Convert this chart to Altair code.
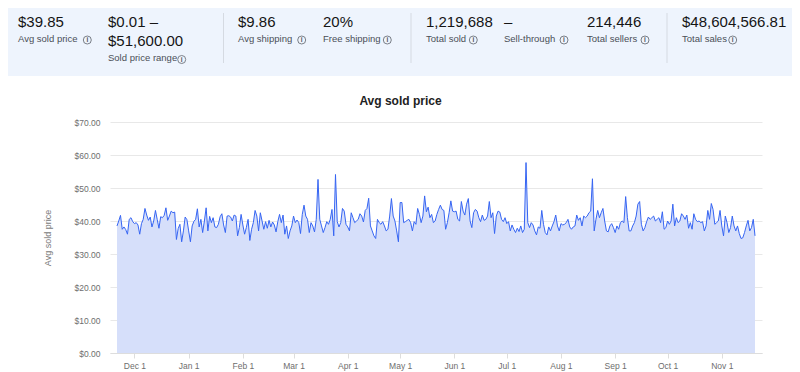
import altair as alt
import pandas as pd

# ---------------- data ----------------
seg1 = [38.5, 40.0, 41.7, 37.5, 38.2, 37.4, 36.0, 40.5, 41.0, 39.8,
        39.2, 39.5, 38.8, 36.0, 39.2, 40.5, 43.8, 41.8, 40.2, 41.2,
        38.2, 40.0, 43.2, 40.5, 37.8, 41.3, 41.0, 41.7, 44.0, 40.2,
        41.5, 43.0, 42.5, 42.7, 34.4, 37.7, 39.0, 33.7, 37.0, 41.2,
        40.4, 37.0, 33.7, 38.5, 39.9, 40.5, 43.7, 38.2, 40.5, 36.5,
        40.0, 44.0, 37.0, 41.4, 39.5, 41.0, 38.2, 38.0, 39.0, 41.3,
        42.2, 38.8, 36.5, 41.5, 41.6, 41.2, 40.0, 41.8, 41.5, 35.5,
        38.0, 42.0, 38.8, 36.0, 38.0, 40.5, 34.1, 37.5, 39.5, 43.2,
        41.5, 37.0, 42.5, 40.0, 37.5, 39.8, 37.8, 40.2, 38.2]
seg2 = [39.7, 38.8, 36.7, 39.8, 42.0, 39.5, 41.8, 36.0, 38.5, 34.7,
        37.0, 38.5, 41.5, 39.5, 40.3, 39.5, 36.2, 42.0, 44.8, 41.5,
        40.5, 36.5, 39.5, 38.5, 36.7, 40.5, 52.6, 40.5, 38.5, 36.5,
        38.0, 39.8, 39.0, 40.5, 43.5, 35.5, 54.1, 39.8, 38.2, 39.5,
        43.8, 43.0, 39.0, 38.2, 37.0, 42.5, 41.0, 39.5, 40.0, 40.5,
        42.2, 41.5, 39.7, 43.2, 43.8, 46.9, 38.5, 37.0, 35.5, 34.7,
        40.5, 39.5, 39.0, 39.8, 38.5, 37.0, 37.5, 41.5, 46.8, 41.5,
        40.0, 37.0, 33.7, 45.6, 45.6, 39.5, 39.8, 40.2, 40.5, 39.5,
        37.0, 39.8, 39.0, 43.8, 42.0, 39.5, 41.5, 47.6, 42.8, 44.2,
        41.0, 42.0]
seg3 = [39.5, 40.0, 42.0, 43.5, 44.8, 43.5, 43.2, 37.5, 39.5, 42.5,
        46.1, 43.0, 42.8, 43.0, 40.5, 40.0, 45.9, 43.0, 41.8, 45.1,
        46.8, 40.0, 38.0, 42.5, 43.5, 43.0, 41.0, 39.8, 41.8, 40.2,
        40.5, 41.5, 45.9, 41.0, 42.5, 36.2, 41.5, 43.0, 42.7, 40.5,
        39.8, 41.0, 39.2, 39.8, 37.0, 38.8, 37.5, 36.5, 37.8, 36.8,
        38.5, 36.5, 37.5, 57.7, 39.5, 38.0, 39.5, 38.8, 37.0, 35.8,
        38.2, 37.8, 43.2, 39.0, 36.5, 35.8, 38.2, 37.0, 38.5, 39.8,
        41.8, 38.5, 37.0, 39.2, 38.8, 39.0, 39.5, 40.5, 38.2, 37.5,
        38.2, 38.5, 41.8, 40.2, 41.0, 38.5, 41.5, 41.0, 41.5, 42.5, 43.0]
seg4 = [52.8, 37.0, 40.5, 43.2, 41.0, 42.5, 43.8, 40.0, 37.0, 36.7,
        38.5, 39.2, 38.0, 36.5, 38.5, 37.5, 39.5, 40.0, 39.5, 47.4,
        41.0, 37.0, 37.0, 38.5, 39.5, 41.5, 45.1, 45.9, 39.0, 37.0,
        38.0, 39.8, 41.2, 40.5, 41.0, 41.5, 40.0, 40.5, 41.0, 39.5,
        42.8, 37.5, 38.0, 40.0, 39.0, 40.0, 45.1, 38.5, 41.0, 39.5,
        40.0, 42.2, 41.5, 40.5, 41.8, 37.8, 39.5, 37.5, 42.2, 40.5,
        39.8, 40.0, 39.5, 39.8, 37.0, 38.5, 43.2, 40.5, 45.3, 43.5,
        39.0, 39.5, 40.0, 43.2, 38.5, 35.5, 41.5, 39.5, 36.5, 38.0,
        41.5, 38.5, 37.0, 38.5, 36.2, 34.7, 34.9, 36.5, 38.5, 40.2,
        37.0, 38.0, 40.5, 35.5]
prices = seg1 + seg2 + seg3 + seg4
start_date = "2023-11-21"
dates = pd.date_range(start_date, periods=len(prices), freq="D").strftime("%Y-%m-%d").tolist()

y_ticks = [0, 10, 20, 30, 40, 50, 60, 70]
x_tick_months = [(2023, 12), (2024, 1), (2024, 2), (2024, 3), (2024, 4), (2024, 5),
                 (2024, 6), (2024, 7), (2024, 8), (2024, 9), (2024, 10), (2024, 11)]

stat_values = ["$39.85", "$0.01 \u2013", "$9.86", "20%", "1,219,688", "\u2013", "214,446", "$48,604,566.81"]
stat_value_line2 = "$51,600.00"
stat_labels = ["Avg sold price", "Sold price range", "Avg shipping", "Free shipping",
               "Total sold", "Sell-through", "Total sellers", "Total sales"]
chart_title = "Avg sold price"
y_title = "Avg sold price"

df = pd.DataFrame({"date": dates, "price": prices})
one = pd.DataFrame({"k": [0]})

HFONT = "Liberation Sans"
AFONT = "Liberation Sans"

# ---------------- header ----------------
layers = []
layers.append(alt.Chart(one).mark_rect(color="#eef4fd").encode(
    x=alt.value(-102), x2=alt.value(682), y=alt.value(-114), y2=alt.value(-46)))
for sx in [113.5, 301, 557]:
    layers.append(alt.Chart(one).mark_rule(color="#d5dae2", strokeWidth=1).encode(
        x=alt.value(sx), y=alt.value(-109), y2=alt.value(-59)))


def txt(s, x, y, size, color, weight="normal", font=HFONT, align="left", baseline="alphabetic"):
    return alt.Chart(one).mark_text(text=s, fontSize=size, color=color, fontWeight=weight,
                                    font=font, align=align, baseline=baseline).encode(
        x=alt.value(x), y=alt.value(y))


val_x = [-92, -2, 128, 213, 316, 394, 477, 572]
icon_x = [-22.7, 71.7, 191.7, 277.3, 363.3, 454, 535, 622.7]
for i, (v, lab) in enumerate(zip(stat_values, stat_labels)):
    layers.append(txt(v, val_x[i], -95, 15, "#151515"))
    ly = -61.5 if i == 1 else -80.5
    iy = -62.5 if i == 1 else -82
    layers.append(txt(lab, val_x[i], ly, 9.5, "#4a4f57"))
    layers.append(alt.Chart(one).mark_point(shape="circle", filled=False, size=64,
                                            color="#4a4f57", strokeWidth=1).encode(
        x=alt.value(icon_x[i]), y=alt.value(iy)))
    layers.append(txt("i", icon_x[i], iy + 0.3, 6.5, "#4a4f57", weight="bold",
                      align="center", baseline="middle"))
layers.append(txt(stat_value_line2, -2, -76, 15, "#151515"))

# ---------------- chart ----------------
x_vals = [alt.DateTime(year=y, month=m, date=1, utc=True) for y, m in x_tick_months]
base = alt.Chart(df).encode(
    x=alt.X("date:T",
            scale=alt.Scale(type="utc", nice=False,
                            domain=[alt.DateTime(year=2023, month=11, date=17, utc=True),
                                    alt.DateTime(year=2024, month=11, date=24, utc=True)]),
            axis=alt.Axis(values=x_vals, labelExpr="utcFormat(datum.value, '%b %-d')",
                          grid=False,
                          domainColor="#dddddd", tickColor="#dddddd", tickSize=5,
                          labelPadding=3, labelFontSize=8.5, labelColor="#6e6e6e",
                          labelFont=AFONT, title="")),
    y=alt.Y("price:Q",
            scale=alt.Scale(domain=[0, 70], nice=False),
            axis=alt.Axis(values=y_ticks, format="$,.2f", grid=True, gridColor="#e8e8e8",
                          domain=False, ticks=False, labelPadding=10, labelFontSize=8.5,
                          labelColor="#6e6e6e", labelFont=AFONT,
                          title=y_title, titleFont=AFONT, titleFontSize=9,
                          titleFontWeight="normal", titleColor="#7a7a7a",
                          titleX=-63, titleY=115.5, titleAngle=270,
                          titleAlign="center", titleBaseline="middle")),
)
area = base.mark_area(color="#d6dffa", opacity=1)
line = base.mark_line(color="#3665f3", strokeWidth=1)
layers += [area, line]
layers.append(txt(chart_title, 290.5, -17, 12, "#222222", weight="bold", font=AFONT, align="center"))

chart = alt.layer(*layers).properties(
    width=652, height=231,
    autosize=alt.AutoSizeParams(type="none"),
    padding={"left": 102, "top": 114, "right": 30, "bottom": 19},
).configure_view(stroke="transparent")

chart.save("out.html", embed_options={"renderer": "svg", "actions": False})
